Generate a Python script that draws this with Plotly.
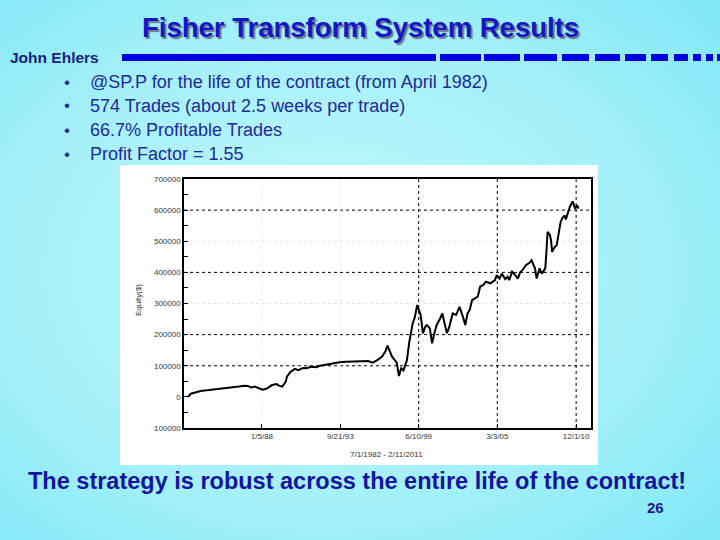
import base64
import plotly.graph_objects as go

# ---------------- data ----------------
dates = [
    "1982-08-15", "1982-11-01", "1983-06-01", "1983-09-01", "1984-03-01", "1984-12-01",
    "1985-09-01", "1986-05-01", "1986-10-01", "1987-01-01", "1987-04-01", "1987-07-01",
    "1987-11-01", "1988-02-01", "1988-05-01", "1988-10-01", "1989-02-01", "1989-04-01",
    "1989-07-01", "1989-10-01", "1989-11-01", "1990-02-01", "1990-06-01", "1990-09-01",
    "1991-01-01", "1991-04-01", "1991-08-01", "1992-01-01", "1992-03-01", "1992-09-01",
    "1993-03-01", "1993-09-01", "1994-03-01", "1994-10-01", "1995-05-01", "1995-10-01",
    "1996-02-01", "1996-06-01", "1996-10-01", "1997-01-01", "1997-03-01", "1997-05-01",
    "1997-07-01", "1997-09-01", "1997-11-01", "1998-01-01", "1998-02-01", "1998-03-01",
    "1998-05-01", "1998-08-01", "1998-10-01", "1999-01-01", "1999-03-01", "1999-05-01",
    "1999-08-01", "1999-10-01", "1999-12-01", "2000-01-15", "2000-04-01", "2000-05-01",
    "2000-06-01", "2000-08-01", "2000-10-01", "2001-01-01", "2001-03-01", "2001-05-01",
    "2001-07-01", "2001-09-01", "2001-12-01", "2002-03-01", "2002-06-01", "2002-09-01",
    "2002-11-01", "2003-01-01", "2003-03-01", "2003-05-01", "2003-07-01", "2003-10-01",
    "2003-12-01", "2004-03-01", "2004-05-01", "2004-09-01", "2005-01-01", "2005-02-15",
    "2005-05-01", "2005-07-01", "2005-10-01", "2005-12-01", "2006-01-15", "2006-04-01",
    "2006-07-01", "2006-09-01", "2006-11-01", "2007-01-01", "2007-04-01", "2007-07-01",
    "2007-09-01", "2007-12-01", "2008-01-15", "2008-04-01", "2008-06-01", "2008-09-01",
    "2008-10-01", "2008-11-01", "2009-01-01", "2009-02-01", "2009-03-01", "2009-05-01",
    "2009-07-01", "2009-09-01", "2009-10-15", "2009-12-01", "2010-02-01", "2010-03-01",
    "2010-04-15", "2010-06-15", "2010-09-01", "2010-11-01", "2011-01-01", "2011-02-01",
]
equity = [
    0, 10000, 17000, 20000, 22000, 25000,
    28000, 33000, 36000, 35000, 30000, 33000,
    27000, 23000, 26000, 38000, 41000, 36000,
    33000, 49000, 65000, 80000, 90000, 86000,
    93000, 92000, 97000, 95000, 99000, 103000,
    108000, 111000, 113000, 114000, 116000, 115000,
    110000, 118000, 129000, 145000, 165000, 145000,
    129000, 120000, 110000, 67000, 80000, 92000,
    85000, 118000, 175000, 236000, 257000, 295000,
    263000, 204000, 225000, 231000, 220000, 185000,
    172000, 205000, 231000, 252000, 268000, 235000,
    204000, 225000, 268000, 263000, 289000, 257000,
    231000, 268000, 280000, 311000, 316000, 322000,
    354000, 360000, 370000, 365000, 375000, 391000,
    380000, 396000, 378000, 386000, 375000, 402000,
    390000, 380000, 400000, 407000, 423000, 430000,
    439000, 413000, 380000, 413000, 396000, 413000,
    466000, 530000, 520000, 503000, 466000, 480000,
    487000, 530000, 562000, 575000, 583000, 570000,
    589000, 610000, 628000, 605000, 615000, 605000,
]

x_tick_vals = ["1988-01-05", "1993-09-21", "1999-06-10", "2005-03-03", "2010-12-01"]
x_tick_text = ["1/5/88", "9/21/93", "6/10/99", "3/3/05", "12/1/10"]
x_grid_dark = ["1999-06-10", "2005-03-03", "2010-12-01"]
x_grid_faint = ["1988-01-05", "1993-09-21"]
y_tick_vals = [-100000, 0, 100000, 200000, 300000, 400000, 500000, 600000, 700000]
y_tick_text = ["100000", "0", "100000", "200000", "300000", "400000", "500000", "600000", "700000"]
y_grid_dark = [100000, 200000, 400000, 600000]
y_grid_faint = [300000, 500000]

title_text = "Fisher Transform System Results"
author_text = "John Ehlers"
bullets = [
    "@SP.P for the life of the contract (from April 1982)",
    "574 Trades (about 2.5 weeks per trade)",
    "66.7% Profitable Trades",
    "Profit Factor = 1.55",
]
bottom_text = "The strategy is robust across the entire life of the contract!"
page_number = "26"
date_range_text = "7/1/1982 - 2/11/2011"
y_title = "Equity($)"

# ---------------- layout helpers ----------------
W, H = 720, 540
L, R, T, B = 184, 591, 179, 428


def px(x):
    return (x - L) / (R - L)


def py(y):
    return (B - y) / (B - T)


FONT = "Liberation Sans, Arial, sans-serif"

fig = go.Figure()
fig.add_trace(go.Scatter(
    x=dates, y=equity, mode="lines",
    line=dict(color="black", width=2),
    hoverinfo="skip", showlegend=False,
))

# background gradient (slide)
svg = (
    '<svg xmlns="http://www.w3.org/2000/svg" width="720" height="540">'
    '<defs><radialGradient id="g" cx="0.45" cy="0.5" r="0.75">'
    '<stop offset="0" stop-color="#c6f8fc"/>'
    '<stop offset="0.6" stop-color="#a2f0f9"/>'
    '<stop offset="1" stop-color="#7fe8f5"/>'
    '</radialGradient></defs>'
    '<rect width="720" height="540" fill="url(#g)"/></svg>'
)
bg_uri = "data:image/svg+xml;base64," + base64.b64encode(svg.encode()).decode()

shapes = []
# white chart picture
shapes.append(dict(type="rect", xref="paper", yref="paper",
                   x0=px(120), x1=px(598), y0=py(465), y1=py(165),
                   fillcolor="white", line=dict(width=0), layer="below"))
# header bar + dashes
bar_segments = [(122, 436), (440, 481), (484, 520), (524, 557), (562, 589),
                (595, 620), (625, 646), (651, 668), (674, 688), (693, 701),
                (706, 713), (717, 720)]
for a, b in bar_segments:
    shapes.append(dict(type="rect", xref="paper", yref="paper",
                       x0=px(a), x1=px(b), y0=py(61), y1=py(54),
                       fillcolor="#0000e0", line=dict(width=0), layer="below"))
# gridlines
for v in y_grid_faint:
    shapes.append(dict(type="line", xref="paper", yref="y", x0=0, x1=1, y0=v, y1=v,
                       line=dict(color="#e4e4e4", width=1, dash="dot"), layer="below"))
for v in y_grid_dark:
    shapes.append(dict(type="line", xref="paper", yref="y", x0=0, x1=1, y0=v, y1=v,
                       line=dict(color="black", width=1, dash="dot"), layer="below"))
for v in x_grid_faint:
    shapes.append(dict(type="line", xref="x", yref="paper", x0=v, x1=v, y0=0, y1=1,
                       line=dict(color="#e4e4e4", width=1, dash="dot"), layer="below"))
for v in x_grid_dark:
    shapes.append(dict(type="line", xref="x", yref="paper", x0=v, x1=v, y0=0, y1=1,
                       line=dict(color="black", width=1, dash="dot"), layer="below"))

ann = []
ann.append(dict(text="<b>" + title_text + "</b>", x=px(360), y=py(27),
                xanchor="center", yanchor="middle",
                font=dict(family=FONT, size=27.5, color="#1616c8",
                          shadow="2px 2px 1px #6a7a8a")))
ann.append(dict(text="<b>" + author_text + "</b>", x=px(8), y=py(58),
                xanchor="left", yanchor="middle",
                font=dict(family=FONT, size=15.5, color="#1a2080")))
bullet_y = [82, 106, 130, 154]
for txt, yy in zip(bullets, bullet_y):
    ann.append(dict(text="•", x=px(62), y=py(yy), xanchor="left", yanchor="middle",
                    font=dict(family=FONT, size=17, color="#1e2a9a")))
    ann.append(dict(text=txt, x=px(88), y=py(yy), xanchor="left", yanchor="middle",
                    font=dict(family=FONT, size=18, color="#1e2a9a")))
ann.append(dict(text="<b>" + bottom_text + "</b>", x=px(357), y=py(481),
                xanchor="center", yanchor="middle",
                font=dict(family=FONT, size=23.5, color="#1414a0")))
ann.append(dict(text="<b>" + page_number + "</b>", x=px(655), y=py(507),
                xanchor="center", yanchor="middle",
                font=dict(family=FONT, size=15, color="#1a1a90")))
ann.append(dict(text=date_range_text, x=px(386), y=py(454),
                xanchor="center", yanchor="middle",
                font=dict(family=FONT, size=8, color="#333333")))
ann.append(dict(text=y_title, x=px(138), y=py(300), textangle=-90,
                xanchor="center", yanchor="middle",
                font=dict(family=FONT, size=8, color="#333333")))
for a in ann:
    a.update(xref="paper", yref="paper", showarrow=False)

fig.update_layout(
    width=W, height=H,
    margin=dict(l=L, r=W - R, t=T, b=H - B, pad=0),
    paper_bgcolor="#a2f0f9",
    plot_bgcolor="rgba(0,0,0,0)",
    showlegend=False,
    shapes=shapes,
    annotations=ann,
    images=[dict(source=bg_uri, xref="paper", yref="paper",
                 x=px(0), y=py(0), sizex=W / (R - L), sizey=H / (B - T),
                 xanchor="left", yanchor="top", sizing="stretch", layer="below")],
    xaxis=dict(
        type="date", range=["1982-05-01", "2012-01-01"],
        tickmode="array", tickvals=x_tick_vals, ticktext=x_tick_text,
        showgrid=False, zeroline=False,
        showline=True, linecolor="black", linewidth=1.5, mirror=True,
        ticks="inside", ticklen=4, tickcolor="black",
        tickfont=dict(family=FONT, size=8, color="#333333"),
    ),
    yaxis=dict(
        range=[-100000, 700000],
        tickmode="array", tickvals=y_tick_vals, ticktext=y_tick_text,
        showgrid=False, zeroline=False,
        showline=True, linecolor="black", linewidth=1.5, mirror=True,
        ticks="inside", ticklen=4, tickcolor="black",
        minor=dict(ticks="inside", ticklen=4, dtick=50000, tickcolor="black", showgrid=False),
        tickfont=dict(family=FONT, size=8, color="#333333"),
    ),
)

fig.write_html(
    "out.html",
    config={"displayModeBar": False},
    post_script="document.body.style.margin='0';document.body.style.padding='0';",
)
